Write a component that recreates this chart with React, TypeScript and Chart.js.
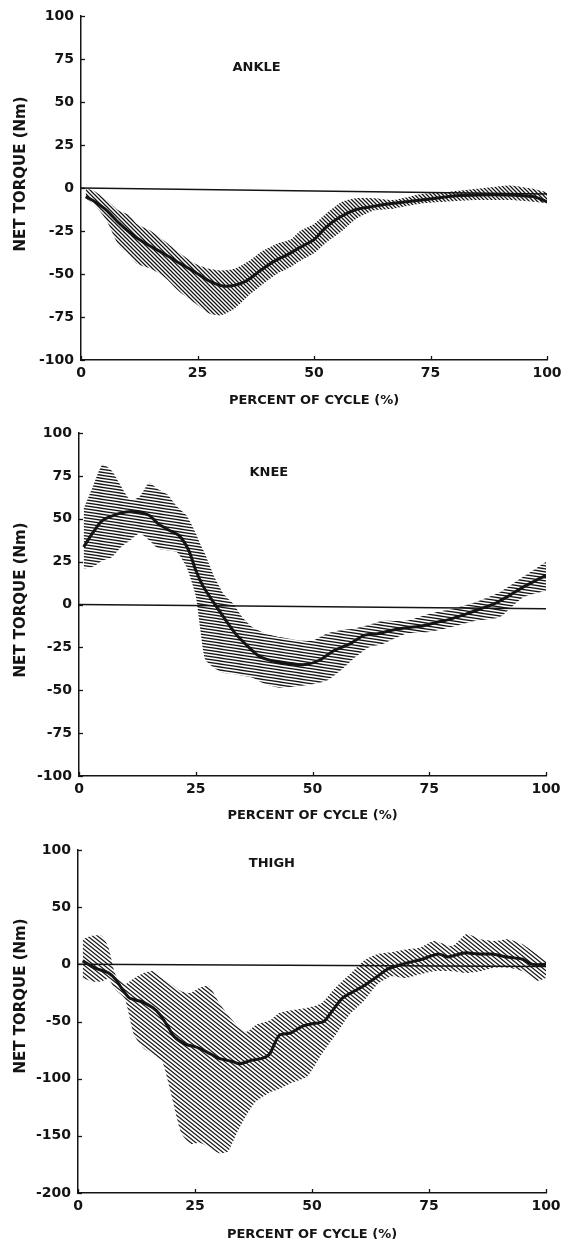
import React, { useEffect, useRef } from 'react';
import { Chart, registerables } from 'chart.js';

Chart.register(...registerables);

const INK = '#141414';
const FONT = '"DejaVu Sans", sans-serif';

// ---------- ticks & texts ----------
const xTicks = [0, 25, 50, 75, 100];
const ankleYTicks = [-100, -75, -50, -25, 0, 25, 50, 75, 100];
const kneeYTicks = [-100, -75, -50, -25, 0, 25, 50, 75, 100];
const thighYTicks = [-200, -150, -100, -50, 0, 50, 100];
const xTitle = 'PERCENT OF CYCLE (%)';
const yTitle = 'NET TORQUE (Nm)';
const panelNames = ['ANKLE', 'KNEE', 'THIGH'];

// ---------- zero reference lines ----------
const zeroX = [0, 100];
const ankleZero = [0, -3.5];
const kneeZero = [0, -2.5];
const thighZero = [0, -2];

// ---------- ANKLE ----------
const ankleMeanX = [1, 3, 5.5, 8, 10.5, 12, 15, 18, 21, 24.5, 27.5, 30.5, 33, 35.5, 38.5, 41.5, 44.5, 47, 50, 52.5, 55.5, 59, 62, 66.5, 73, 76, 80.5, 85, 91.5, 97, 100];
const ankleMean = [-5, -8, -13, -20, -26, -29, -34, -38.5, -43.5, -49, -54, -57, -56.5, -54, -48, -42.5, -38.5, -34.5, -30, -23, -17, -12.5, -11, -9, -7, -6, -4.5, -4, -4, -5, -8];
const ankleBandX = [1, 3, 5.5, 8, 10.5, 12, 15, 18, 21, 24.5, 27.5, 30, 33, 36, 39, 42, 45, 47, 50, 53, 56, 59, 63, 67, 73, 78, 85, 92, 97, 100];
const ankleUpper = [0, -2, -7, -13, -16, -21, -25, -31, -37.5, -44, -47, -48, -47, -42.5, -36.5, -32.5, -30, -25, -21, -14, -8, -6, -6, -7, -3.5, -2.5, -0.5, 1.5, -0.5, -2.5];
const ankleLower = [-6, -10, -19, -33, -39.5, -44, -47, -52, -60, -67, -73, -74, -70, -62.5, -56, -50, -46, -42.5, -38, -31, -25, -18, -13, -12, -9, -8, -7, -7, -8, -9];

// ---------- KNEE ----------
const kneeMeanX = [1, 3, 5, 8, 10, 12.5, 15, 17, 19.5, 21.5, 23.5, 25, 26.5, 28, 29.5, 31.5, 33.5, 36, 38.5, 41.5, 45, 48.5, 51.5, 54.5, 58, 61, 64, 67, 70, 73.5, 76.5, 79.5, 83, 86, 89, 92, 95, 98.5, 100];
const kneeMean = [33.5, 42, 49, 52.5, 54, 54, 52, 47, 43, 40, 31.5, 20, 11, 4.5, -1.5, -9.5, -17, -24, -30, -33, -34.5, -35, -32.5, -27, -23, -18, -17, -15, -13.5, -12.5, -10.5, -8.5, -5.5, -2.5, 0.5, 5, 10, 15, 17];
const kneeBandX = [1, 3, 5, 7, 9, 11, 13, 15, 17, 19, 21, 23, 25, 26, 27, 29, 31, 33, 35, 37, 40, 43, 47, 50, 53, 56, 59, 62, 65, 70, 75, 80, 85, 90, 95, 100];
const kneeUpper = [56, 69, 81.5, 78, 69, 61, 63, 71, 67, 64, 57, 52, 41.5, 35, 29.5, 16, 6, 0.5, -7.5, -13, -17, -19, -21, -21, -17, -15, -14, -12, -9.5, -9.5, -5.5, -2.5, 1.5, 7, 16, 25];
const kneeLower = [21, 22, 25.5, 27.5, 33.5, 37.5, 41.5, 37.5, 32.5, 31.5, 30.5, 22, 5, -15, -32, -37, -40, -40.5, -41.5, -42.5, -46.5, -48.5, -47.5, -46.5, -44.5, -38.5, -31, -25, -23, -17, -16, -13, -9.5, -7.5, 4, 8];

// ---------- THIGH ----------
const thighMeanX = [1, 3.5, 6.5, 8, 9.5, 11, 13.5, 16, 17.5, 19, 20.5, 23, 25, 27.5, 30, 33, 34.5, 37, 39.5, 41, 43, 45.5, 48, 50, 52.5, 54, 56.5, 59, 61, 63.5, 66, 68, 70.5, 73.5, 77, 79, 82.5, 85.5, 88.5, 91.5, 95, 97, 100];
const thighMean = [3, -3, -7.5, -13, -22, -29.5, -32.5, -38, -44, -53, -63, -70, -72, -76.5, -82, -85, -87, -84, -82, -78, -62, -60, -54, -52, -50, -42.5, -29.5, -23.5, -19, -12, -4.5, -1.5, 1.5, 4.5, 9, 6.5, 10, 9, 9, 6.5, 4.5, 0, 0];
const thighBandX = [1, 3, 5, 6.5, 8, 10, 12, 14, 16, 18, 20, 22, 24, 26, 28, 30, 32, 34, 36, 38, 41, 43, 46, 49, 52, 55, 58, 61, 64, 67, 70, 73, 76, 80, 83, 86, 89, 92, 95, 98, 100];
const thighUpper = [22, 25, 25, 15, -9, -17.5, -12, -7.5, -6, -12, -17.5, -23.5, -25, -20.5, -19, -32.5, -44, -53, -59, -53, -49, -42.5, -40, -38, -34, -20.5, -9, 3, 9, 10.5, 13, 14.5, 20.5, 16, 26.5, 22, 20.5, 22, 17.5, 9, 3];
const thighLower = [-12, -15, -15, -13, -22, -30, -62, -73.5, -79, -85, -115, -147, -157, -156, -160, -165, -164, -147, -132, -120, -112, -109, -103, -98, -79, -62, -44, -32.5, -17.5, -10.5, -12, -9, -6, -6, -7.5, -6, -3, -3, -6, -14.5, -12];

const pts = (xs: number[], ys: number[]) => xs.map((x, i) => ({ x, y: ys[i] }));

function hatch(w: number, h: number, lw: number): CanvasPattern | string {
  const c = document.createElement('canvas');
  c.width = w;
  c.height = h;
  const g = c.getContext('2d');
  if (!g) return 'rgba(0,0,0,0.5)';
  g.strokeStyle = INK;
  g.lineWidth = lw;
  for (const dx of [-2 * w, -w, 0, w, 2 * w]) {
    g.beginPath();
    g.moveTo(dx - w, -h);
    g.lineTo(dx + 2 * w, 2 * h);
    g.stroke();
  }
  return g.createPattern(c, 'repeat') || 'rgba(0,0,0,0.5)';
}

type PanelDef = {
  name: string;
  meanX: number[];
  mean: number[];
  bandX: number[];
  upper: number[];
  lower: number[];
  zero: number[];
  yTicks: number[];
  yMin: number;
  yMax: number;
  top: number;
  height: number;
  padTop: number;
  padRight: number;
  yWidth: number;
  xHeight: number;
  xTitlePad: number;
  yTitleCenter: number;
  labelX: number;
  labelY: number;
  hatchW: number;
  hatchH: number;
};

const panels: PanelDef[] = [
  {
    name: panelNames[0], meanX: ankleMeanX, mean: ankleMean, bandX: ankleBandX, upper: ankleUpper, lower: ankleLower,
    zero: ankleZero, yTicks: ankleYTicks, yMin: -100, yMax: 100,
    top: 0, height: 412, padTop: 16, padRight: 21, yWidth: 81, xHeight: 52, xTitlePad: 4, yTitleCenter: 174,
    labelX: 32.5, labelY: 70, hatchW: 4, hatchH: 4,
  },
  {
    name: panelNames[1], meanX: kneeMeanX, mean: kneeMean, bandX: kneeBandX, upper: kneeUpper, lower: kneeLower,
    zero: kneeZero, yTicks: kneeYTicks, yMin: -100, yMax: 100,
    top: 412, height: 414, padTop: 21, padRight: 22, yWidth: 79, xHeight: 50, xTitlePad: 3, yTitleCenter: 188,
    labelX: 36.5, labelY: 77, hatchW: 20, hatchH: 3,
  },
  {
    name: panelNames[2], meanX: thighMeanX, mean: thighMean, bandX: thighBandX, upper: thighUpper, lower: thighLower,
    zero: thighZero, yTicks: thighYTicks, yMin: -200, yMax: 100,
    top: 826, height: 420, padTop: 24, padRight: 22, yWidth: 78, xHeight: 53, xTitlePad: 4, yTitleCenter: 170,
    labelX: 36.5, labelY: 88, hatchW: 5, hatchH: 4,
  },
];

function decorPlugin(p: PanelDef) {
  return {
    id: 'decor',
    afterDraw(chart: any) {
      const { ctx, chartArea } = chart;
      const x = chart.scales.x;
      const y = chart.scales.y;
      ctx.save();
      ctx.strokeStyle = INK;
      ctx.lineWidth = 1.3;
      x.ticks.forEach((t: any) => {
        const px = Math.round(x.getPixelForValue(t.value)) + 0.5;
        ctx.beginPath();
        ctx.moveTo(px, chartArea.bottom);
        ctx.lineTo(px, chartArea.bottom - 4);
        ctx.stroke();
      });
      y.ticks.forEach((t: any) => {
        const py = Math.round(y.getPixelForValue(t.value)) + 0.5;
        ctx.beginPath();
        ctx.moveTo(chartArea.left, py);
        ctx.lineTo(chartArea.left + 4, py);
        ctx.stroke();
      });
      ctx.fillStyle = INK;
      ctx.font = `bold 13px ${FONT}`;
      ctx.textAlign = 'left';
      ctx.textBaseline = 'middle';
      ctx.fillText(p.name, x.getPixelForValue(p.labelX), y.getPixelForValue(p.labelY));
      // vertical axis title
      ctx.translate(21, p.yTitleCenter);
      ctx.rotate(-Math.PI / 2);
      ctx.font = `bold 15px ${FONT}`;
      ctx.textAlign = 'center';
      ctx.fillText(yTitle, 0, 0);
      ctx.restore();
    },
  };
}

function buildConfig(p: PanelDef): any {
  const pattern = hatch(p.hatchW, p.hatchH, 1.25);
  return {
    type: 'line',
    data: {
      datasets: [
        {
          label: 'mean',
          data: pts(p.meanX, p.mean),
          borderColor: INK,
          borderWidth: 3,
          pointRadius: 0,
          tension: 0.25,
          fill: false,
        },
        {
          label: 'zero',
          data: pts(zeroX, p.zero),
          borderColor: INK,
          borderWidth: 1.5,
          pointRadius: 0,
          fill: false,
        },
        {
          label: 'upper',
          data: pts(p.bandX, p.upper),
          borderWidth: 0,
          borderColor: 'rgba(0,0,0,0)',
          backgroundColor: pattern,
          pointRadius: 0,
          tension: 0.2,
          fill: '+1',
        },
        {
          label: 'lower',
          data: pts(p.bandX, p.lower),
          borderWidth: 0,
          borderColor: 'rgba(0,0,0,0)',
          pointRadius: 0,
          tension: 0.2,
          fill: false,
        },
      ],
    },
    options: {
      animation: false,
      responsive: false,
      maintainAspectRatio: false,
      events: [],
      layout: { padding: { top: p.padTop, right: p.padRight, left: 0, bottom: 0 } },
      plugins: { legend: { display: false }, tooltip: { enabled: false }, title: { display: false } },
      scales: {
        x: {
          type: 'linear',
          min: 0,
          max: 100,
          afterBuildTicks: (s: any) => { s.ticks = xTicks.map((v) => ({ value: v })); },
          afterFit: (s: any) => { s.height = p.xHeight; },
          grid: { display: true, drawOnChartArea: false, drawTicks: false },
          border: { display: true, color: INK, width: 1.5 },
          ticks: { color: INK, font: { family: FONT, size: 14, weight: 'bold' }, padding: 5, maxRotation: 0 },
          title: { display: true, text: xTitle, color: INK, font: { family: FONT, size: 13, weight: 'bold' }, padding: { top: 0, bottom: p.xTitlePad } },
        },
        y: {
          type: 'linear',
          min: p.yMin,
          max: p.yMax,
          afterBuildTicks: (s: any) => { s.ticks = p.yTicks.map((v) => ({ value: v })); },
          afterFit: (s: any) => { s.width = p.yWidth; },
          grid: { display: true, drawOnChartArea: false, drawTicks: false },
          border: { display: true, color: INK, width: 1.5 },
          ticks: { color: INK, font: { family: FONT, size: 14, weight: 'bold' }, padding: 7 },
          title: { display: false },
        },
      },
    },
    plugins: [decorPlugin(p)],
  };
}

export default function App() {
  const r0 = useRef<HTMLCanvasElement>(null);
  const r1 = useRef<HTMLCanvasElement>(null);
  const r2 = useRef<HTMLCanvasElement>(null);
  const refs = [r0, r1, r2];

  useEffect(() => {
    const charts: Chart[] = [];
    panels.forEach((p, i) => {
      const c = refs[i].current;
      if (c) charts.push(new Chart(c, buildConfig(p)));
    });
    return () => charts.forEach((c) => c.destroy());
  }, []);

  return (
    <div style={{ position: 'absolute', left: 0, top: 0, width: 568, height: 1239, overflow: 'hidden', background: '#fff' }}>
      {panels.map((p, i) => (
        <canvas
          key={p.name}
          ref={refs[i]}
          width={568}
          height={p.height}
          style={{ position: 'absolute', left: 0, top: p.top, width: 568, height: p.height }}
        />
      ))}
    </div>
  );
}
